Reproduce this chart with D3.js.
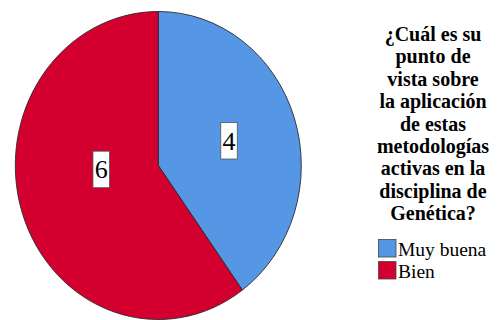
<!DOCTYPE html>
<html>
<head>
<meta charset="utf-8">
<script src="https://cdn.jsdelivr.net/npm/d3@7/dist/d3.min.js"></script>
<style>
  html, body { margin: 0; padding: 0; background: #fff; }
  svg { display: block; }
  text { font-family: "Liberation Serif", Tinos, "Times New Roman", serif; }
</style>
</head>
<body>
<svg id="chart" width="503" height="320"></svg>
<script>
// Responses per category
const categories = ["Muy buena", "Bien"];
const counts = [4, 6];
const colors = ["#5596e5", "#d3002f"];
const titleLines = [
  "¿Cuál es su", "punto de", "vista sobre", "la aplicación",
  "de estas", "metodologías", "activas en la", "disciplina de", "Genética?"
];

const svg = d3.select("#chart");

// Pie geometry (drawn as a circle, stretched slightly vertically)
const cx = 158.3, cy = 165.5, r = 143, sy = 154 / 143;

const pie = d3.pie().sort(null).value(d => d)(counts);
const arc = d3.arc().innerRadius(0).outerRadius(r);

const g = svg.append("g")
  .attr("transform", `translate(${cx},${cy}) scale(1,${sy})`);

g.selectAll("path.slice")
  .data(pie)
  .join("path")
  .attr("class", "slice")
  .attr("d", arc)
  .attr("fill", (d, i) => colors[i])
  .attr("stroke", "#2a2a2a")
  .attr("stroke-width", 0.9)
  .attr("vector-effect", "non-scaling-stroke");

// Count labels in white boxes: placement per slice (angle offset, radius fraction)
const labelLayout = [
  { da: 0, f: 0.52 },
  { da: 0.25, f: 0.40 }
];
const labels = svg.append("g");
pie.forEach((d, i) => {
  const a = (d.startAngle + d.endAngle) / 2 + labelLayout[i].da;
  const rr = r * labelLayout[i].f;
  const x = cx + rr * Math.sin(a);
  const y = cy - rr * Math.cos(a) * sy;
  const w = 16.5, h = 36.5;
  labels.append("rect")
    .attr("x", x - w / 2).attr("y", y - h / 2)
    .attr("width", w).attr("height", h)
    .attr("fill", "#fff")
    .attr("stroke", "#555")
    .attr("stroke-width", 0.8);
  labels.append("text")
    .attr("x", x).attr("y", y + 9)
    .attr("text-anchor", "middle")
    .attr("font-size", 26)
    .attr("fill", "#000")
    .text(d.data);
});

// Legend title
const title = svg.append("g");
titleLines.forEach((line, i) => {
  title.append("text")
    .attr("x", 433)
    .attr("y", 41 + i * 22.4)
    .attr("text-anchor", "middle")
    .attr("font-weight", "bold")
    .attr("font-size", 20)
    .attr("fill", "#000")
    .text(line);
});

// Legend entries
const legend = svg.append("g");
categories.forEach((c, i) => {
  const y = 239.5 + i * 22;
  legend.append("rect")
    .attr("x", 378.5).attr("y", y)
    .attr("width", 17.5).attr("height", 17.5)
    .attr("fill", colors[i])
    .attr("stroke", "#444")
    .attr("stroke-width", 0.8);
  legend.append("text")
    .attr("x", 398)
    .attr("y", y + 16.5)
    .attr("font-size", 19.5)
    .attr("fill", "#000")
    .text(c);
});
</script>
</body>
</html>
